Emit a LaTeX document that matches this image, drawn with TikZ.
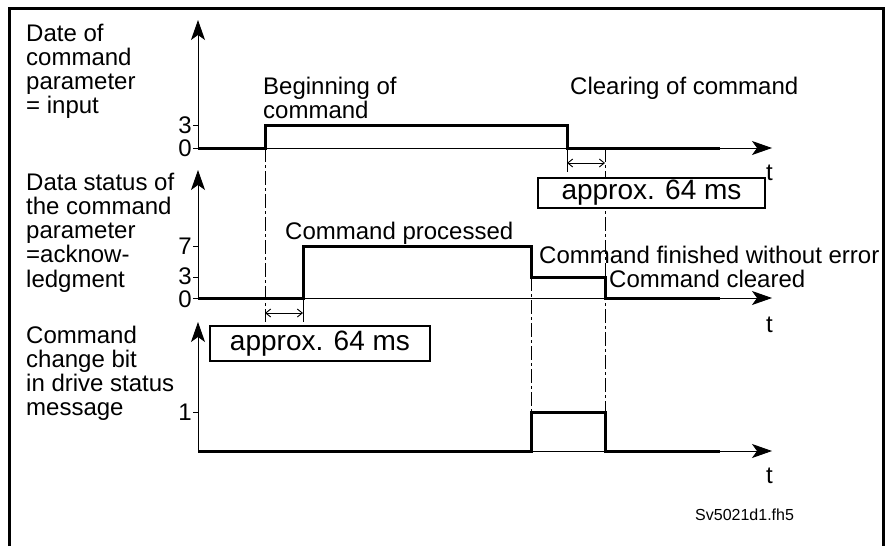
\documentclass[tikz,border=0pt]{standalone}
\usepackage{fontspec}
\setmainfont{Liberation Sans}
\usetikzlibrary{arrows.meta}
\begin{document}
\begin{tikzpicture}[x=1pt,y=-1pt,
  lbl/.style={font=\fontsize{24}{24.3}\selectfont, inner sep=0pt, align=left},
  num/.style={font=\fontsize{24}{24}\selectfont, inner sep=0pt, anchor=east},
  axisline/.style={line width=0.9pt, -{Stealth[length=20pt,width=14pt,inset=5pt]}},
  sig/.style={line width=3pt, line join=miter},
  thinl/.style={line width=0.9pt},
  ddash/.style={line width=0.9pt, dash pattern=on 14pt off 3pt on 3pt off 3pt},
  dimarrow/.style={line width=0.9pt, {Straight Barb[length=5pt,width=8pt]}-{Straight Barb[length=5pt,width=8pt]}},
  msbox/.style={draw, line width=2.5pt, fill=white, inner sep=0pt, font=\fontsize{28}{29}\selectfont}]
\useasboundingbox (0,0) rectangle (888,546);
% frame
\draw[line width=3pt] (9,546) -- (9,8) -- (883,8) -- (883,546);

% origins and axes ends
\coordinate (o1) at (198,148);
\coordinate (o2) at (198,298);
\coordinate (o3) at (198,451);
\coordinate (y1) at (198,20);
\coordinate (y2) at (198,170);
\coordinate (y3) at (198,322);
\coordinate (t1) at (772,148);
\coordinate (t2) at (772,298);
\coordinate (t3) at (772,451);

% axes
\draw[axisline] (o1) -- (y1);
\draw[axisline] (o1) -- (t1);
\draw[axisline] (o2) -- (y2);
\draw[axisline] (o2) -- (t2);
\draw[axisline] (o3) -- (y3);
\draw[axisline] (o3) -- (t3);

% ticks
\draw[thinl] (193,125) -- (198,125);
\draw[thinl] (193,148) -- (198,148);
\draw[thinl] (193,246) -- (198,246);
\draw[thinl] (193,277) -- (198,277);
\draw[thinl] (193,298) -- (198,298);
\draw[thinl] (193,412) -- (198,412);

% level numbers
\node[num] (n3a) at (192,125) {3};
\node[num] (n0a) at (192,148) {0};
\node[num] (n7b) at (192,246) {7};
\node[num] (n3b) at (192,276) {3};
\node[num] (n0b) at (192,299) {0};
\node[num] (n1c) at (192,412) {1};

% signals
\draw[sig] (o1) -- (265,148) -- (265,125) -- (567,125) -- (567,148) -- (720,148);
\draw[sig] (o2) -- (303,298) -- (303,246) -- (531,246) -- (531,277) -- (605,277) -- (605,298) -- (720,298);
\draw[sig] (o3) -- (531,451) -- (531,412) -- (605,412) -- (605,451) -- (720,451);

% dash-dot guide lines
\draw[ddash] (265,148) -- (265,322);
\draw[thinl] (303,298) -- (303,322);
\draw[thinl] (567,148) -- (567,172);
\draw[ddash] (605,148) -- (605,412);
\draw[ddash] (531,277) -- (531,412);

% delay arrows
\coordinate (d1a) at (265,313);
\coordinate (d1b) at (303,313);
\coordinate (d2a) at (567,163);
\coordinate (d2b) at (605,163);
\draw[dimarrow] (d1a) -- (d1b);
\draw[dimarrow] (d2a) -- (d2b);

% boxes
\node[msbox, minimum width=227pt, minimum height=30pt] (box1) at (651.5,193) {approx. 64 ms};
\node[msbox, minimum width=220pt, minimum height=35pt] (box2) at (320,343.5) {approx. 64 ms};

% left labels
\node[lbl, anchor=north west] (lab1) at (26,23.5) {Date of\\command\\parameter\\= input};
\node[lbl, anchor=north west] (lab2) at (26,172.5) {Data status of\\the command\\parameter\\=acknow-\\ledgment};
\node[lbl, anchor=north west] (lab3) at (26,325.5) {Command\\change bit\\in drive status\\message};

% event labels
\node[lbl, anchor=north west] (beg) at (263,76.5) {Beginning of\\command};
\node[lbl, anchor=base west] (clr) at (570,94) {Clearing of command};
\node[lbl, anchor=base west] (proc) at (285,239) {Command processed};
\node[lbl, anchor=base west] (fin) at (539,263) {Command finished without error};
\node[lbl, anchor=base west] (cleared) at (609,287) {Command cleared};

% t labels
\node[lbl, anchor=base west] (tl1) at (766,180) {t};
\node[lbl, anchor=base west] (tl2) at (766,332) {t};
\node[lbl, anchor=base west] (tl3) at (766,483) {t};

% file name
\node[inner sep=0pt, anchor=base west, font=\fontsize{16}{17}\selectfont] (fname) at (695,520) {Sv5021d1.fh5};
\end{tikzpicture}
\end{document}
